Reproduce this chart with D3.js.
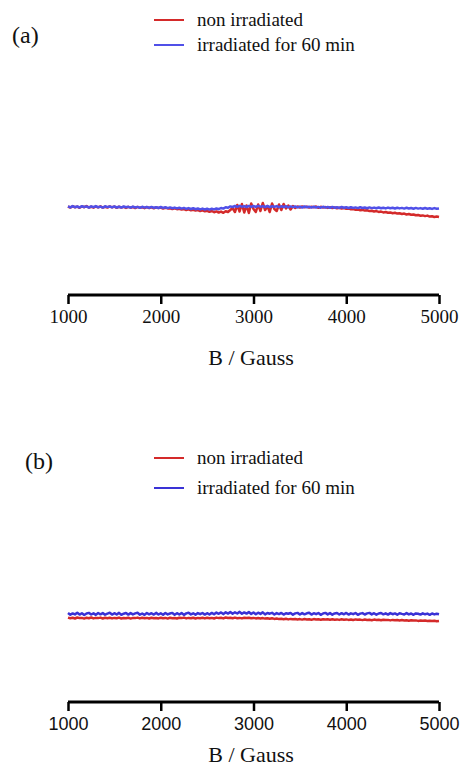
<!DOCTYPE html>
<html><head><meta charset="utf-8">
<script src="https://cdn.jsdelivr.net/npm/d3@7"></script>
<style>body{margin:0;background:#fff}</style>
</head><body>
<svg id="c" width="461" height="769"></svg>
<script>
const fieldStart = 1000, fieldStep = 25;
const ticks = [1000, 2000, 3000, 4000, 5000];
const seriesNames = ["non irradiated", "irradiated for 60 min"];
const redA = [0.5,-0.6,0.8,-0.3,0.4,-0.8,0.6,-0.2,0.9,-0.5,0.3,-0.7,0.5,-0.4,0.7,-0.6,0.2,-0.5,0.6,-0.3,
 0.4,-0.8,0.3,-0.5,0.1,-0.9,0.2,-0.7,0,-1,0.1,-0.8,-0.2,-1.2,-0.1,-1,-0.4,-1.3,-0.3,-1.1,
 -0.6,-1.5,-0.8,-1.4,-1.2,-2,-1.3,-2.2,-1.8,-2.6,-2,-3,-2.4,-3.3,-2.8,-3.6,-3,-4,-3.4,-4.3,
 -3.8,-4.8,-4,-5.2,-4.4,-5.5,-4.6,-5.8,-4.2,-5,-3,-1,-5,2,-4.5,3,-5.5,1.5,-6,3.5,
 -2,-5,2.5,-4,4,-3,1,-5,3.5,-2,-4,2.5,-3,3,-1.5,1.5,-2.5,1,-1,0.5,
 -0.5,0.6,-0.3,0.4,-0.6,0.3,-0.2,0.5,-0.8,0.2,-0.5,-0.1,-0.9,-0.3,-1,-0.5,-1.3,-0.7,-1.5,-1,
 -1.8,-1.4,-2.3,-1.9,-2.8,-2.4,-3.2,-2.9,-3.6,-3.3,-4.1,-3.7,-4.5,-4.1,-4.9,-4.6,-5.4,-5,-5.8,-5.4,
 -6.2,-5.8,-6.6,-6.3,-7,-6.6,-7.5,-7,-7.8,-7.5,-8.3,-7.9,-8.7,-8.4,-9.1,-8.6,-9.6,-9.2,-10,-9.5,
 -10];
const blueA = [0.6,-0.4,0.9,-0.2,0.5,-0.5,0.8,0,0.6,-0.6,0.7,-0.2,0.9,-0.3,0.4,-0.6,0.7,-0.1,0.5,-0.4,
 0.6,-0.5,0.3,-0.6,0.5,-0.3,0.2,-0.7,0.4,-0.5,0.1,-0.8,0.2,-0.6,0,-0.9,0.1,-0.7,-0.2,-1,
 0,-0.9,-0.3,-1.1,-0.4,-1.2,-0.6,-1.4,-0.8,-1.6,-0.9,-1.8,-1.1,-2,-1.2,-2.2,-1.5,-2.4,-1.6,-2.5,
 -1.7,-2.6,-1.8,-2.4,-1.5,-2.2,-1,-1.6,-0.2,-0.8,0.6,0,1,0.2,1.2,0.3,0.9,0,1.1,0.2,
 1,0.1,1.2,0.3,0.9,0,1,-0.1,0.8,0.2,0.9,-0.2,0.7,0,0.8,-0.3,0.6,-0.1,0.5,-0.4,
 0.4,-0.5,0.5,-0.3,0.2,-0.6,0.3,-0.5,0.1,-0.7,0.2,-0.6,0,-0.8,0.1,-0.7,-0.2,-0.9,0,-0.8,
 -0.3,-1,-0.2,-0.9,-0.4,-1.1,-0.3,-1,-0.5,-1.2,-0.4,-1.1,-0.6,-1.3,-0.5,-1.2,-0.7,-1.4,-0.6,-1.3,
 -0.8,-1.5,-0.7,-1.4,-0.9,-1.6,-0.8,-1.5,-1,-1.7,-0.9,-1.6,-1.1,-1.8,-1,-1.7,-1.2,-1.9,-1.1,-1.8,
 -1.5];
const redB = [-3.6,-4.3,-3.8,-4.5,-3.5,-4.1,-3.9,-4.6,-3.7,-4.2,-3.5,-4.4,-3.9,-4.1,-3.6,-4.5,-3.8,-4.2,-3.7,-4.4,
 -3.9,-4.3,-3.6,-4.5,-4,-4.2,-3.7,-4.6,-3.9,-4.1,-3.6,-4.4,-3.8,-4.3,-3.9,-4.5,-3.7,-4.2,-4,-4.4,
 -3.8,-4.3,-3.9,-4.6,-3.7,-4.2,-4,-4.5,-3.8,-4.1,-3.6,-4.4,-3.9,-4.3,-3.7,-4.5,-3.9,-4.2,-3.8,-4.4,
 -3.7,-4.2,-3.9,-4.5,-3.6,-4.1,-3.8,-4.4,-3.5,-4,-3.7,-4.3,-3.6,-4.2,-3.9,-4.4,-3.7,-4.1,-3.8,-4.3,
 -3.9,-4.4,-4,-4.5,-4.1,-4.6,-4.2,-4.8,-4.3,-4.9,-4.5,-5.1,-4.7,-5.2,-4.8,-5.4,-4.9,-5.3,-5,-5.5,
 -5.1,-5.6,-5,-5.4,-5.2,-5.7,-5.1,-5.5,-5.3,-5.8,-5.2,-5.6,-5.3,-5.7,-5.2,-5.8,-5.4,-5.9,-5.3,-5.7,
 -5.4,-5.9,-5.5,-6,-5.4,-5.8,-5.6,-6.1,-5.5,-5.9,-5.7,-6.2,-5.6,-6,-5.8,-6.3,-5.7,-6.1,-5.9,-6.4,
 -5.9,-6.3,-6,-6.5,-6.1,-6.4,-6.2,-6.7,-6.3,-6.6,-6.4,-6.9,-6.5,-6.8,-6.6,-7,-6.7,-7.1,-6.8,-7.3,
 -7];
const blueB = [1,-0.8,0.6,-0.4,1.2,-0.6,0.8,-1,0.5,1.1,-0.5,0.7,-0.9,1,-0.3,0.9,-0.7,0.4,1.2,-0.6,
 0.8,-0.5,1.1,-0.8,0.3,1,-0.6,0.9,-0.4,0.6,1.2,-0.7,0.5,-0.9,1,-0.3,0.8,-0.6,1.1,-0.5,
 0.7,-0.8,1,-0.4,0.5,1.1,-0.7,0.8,-0.5,1,-0.9,0.6,1.2,-0.4,0.7,-0.8,0.9,-0.2,1,-0.6,
 0.8,-0.5,1.1,-0.3,1.4,0.2,1.6,-0.1,1.8,0.4,2,0.3,1.7,0.5,2.1,0.2,1.6,0.4,1.9,0.1,
 1.5,-0.2,1.3,0.1,1.6,-0.4,1,0.3,1.2,-0.5,0.9,-0.1,1.1,-0.6,0.8,0.2,1,-0.7,0.6,1.1,
 -0.5,0.9,-0.3,0.7,1.2,-0.6,0.8,-0.2,1,-0.8,0.5,1.1,-0.4,0.9,-0.7,0.6,1,-0.5,0.8,-0.3,
 1.1,-0.6,0.7,-0.2,1,-0.8,0.4,0.9,-0.5,0.6,1.1,-0.4,0.8,-0.7,0.5,1,-0.3,0.7,-0.6,0.9,
 -0.2,0.6,-0.7,0.8,0.1,-0.5,0.9,-0.4,0.5,-0.8,0.6,0.2,-0.6,0.7,-0.3,0.4,-0.8,0.5,-0.4,0.3,
 -0.2];

const svg = d3.select("#c");
const x = d3.scaleLinear().domain([1000, 5000]).range([68, 439]);

function panel(cfg) {
  const g = svg.append("g");
  const y = d3.scaleLinear().domain([-15, 15]).range([cfg.center + 15, cfg.center - 15]);
  const line = d3.line().x((d, i) => x(fieldStart + i * fieldStep)).y(d => y(d));
  [cfg.red, cfg.blue].forEach((s, k) => {
    g.append("path").attr("d", line(s)).attr("fill", "none")
      .attr("stroke", cfg.colors[k]).attr("stroke-width", 2.5).attr("stroke-linejoin", "round");
  });
  const ax = g.append("g").attr("transform", `translate(0,${cfg.axisY})`)
    .call(d3.axisBottom(x).tickValues(ticks).tickSize(9).tickSizeOuter(0).tickFormat(d3.format("d")));
  ax.select(".domain").attr("stroke", "#000").attr("stroke-width", 3.2).attr("d", `M${x(1000)},0H${x(5000)}`);
  ax.selectAll(".tick line").attr("stroke", "#000").attr("stroke-width", 2.5);
  ax.selectAll(".tick text").attr("font-family", cfg.tickFont).attr("font-size", cfg.tickSize)
    .attr("fill", "#111").attr("dy", null).attr("y", cfg.tickY);
  g.append("text").attr("x", 251).attr("y", cfg.titleY).attr("text-anchor", "middle")
    .attr("font-family", "Liberation Serif").attr("font-size", 22).attr("fill", "#111").text("B / Gauss");
  g.append("text").attr("x", cfg.labelX).attr("y", cfg.labelY)
    .attr("font-family", "Liberation Serif").attr("font-size", 24).attr("fill", "#111").text(cfg.label);
  seriesNames.forEach((n, k) => {
    const ly = cfg.legY[k];
    g.append("line").attr("x1", 154).attr("x2", 184).attr("y1", ly).attr("y2", ly)
      .attr("stroke", cfg.colors[k]).attr("stroke-width", 2);
    g.append("text").attr("x", 197).attr("y", ly + 6).attr("font-family", "Liberation Serif")
      .attr("font-size", 19).attr("fill", "#111").text(n);
  });
}

panel({red: redA, blue: blueA, colors: ["#d42a2a", "#5050e8"], center: 207, axisY: 295,
  tickFont: "Liberation Serif", tickSize: 19, tickY: 28,
  titleY: 365, label: "(a)", labelX: 12, labelY: 43, legY: [20, 45]});
panel({red: redB, blue: blueB, colors: ["#d42a2a", "#3a32d6"], center: 614, axisY: 702,
  tickFont: "Liberation Sans", tickSize: 18, tickY: 28,
  titleY: 762, label: "(b)", labelX: 25, labelY: 469, legY: [458, 488]});
</script>
</body></html>
